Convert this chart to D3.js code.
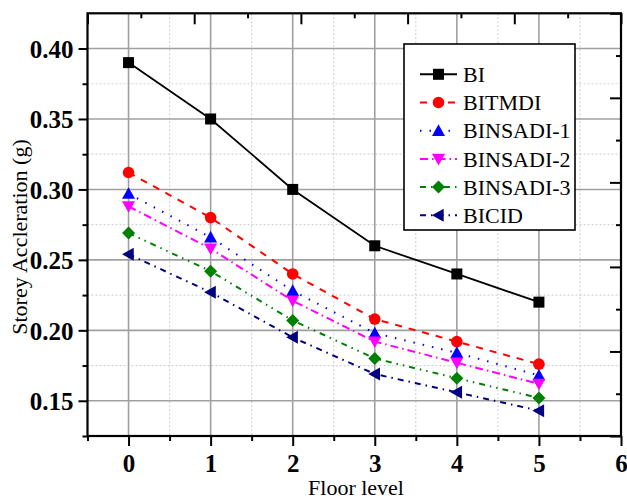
<!DOCTYPE html>
<html>
<head>
<meta charset="utf-8">
<script src="https://cdn.jsdelivr.net/npm/d3@7/dist/d3.min.js"></script>
<style>
  html, body { margin: 0; padding: 0; background: #fff; }
  svg { display: block; }
  svg text { font-family: "Times New Roman", "Liberation Serif", Tinos, serif; }
  .ticklab { font-weight: bold; font-size: 25px; }
</style>
</head>
<body>
<svg id="chart" width="627" height="499"></svg>
<script>
// ---- data ----
const floors = [0, 1, 2, 3, 4, 5];
const seriesNames = ["BI", "BITMDI", "BINSADI-1", "BINSADI-2", "BINSADI-3", "BICID"];
const BI        = [0.390, 0.350, 0.300, 0.260, 0.240, 0.220];
const BITMDI    = [0.312, 0.280, 0.240, 0.208, 0.192, 0.176];
const BINSADI_1 = [0.297, 0.266, 0.228, 0.198, 0.184, 0.168];
const BINSADI_2 = [0.288, 0.258, 0.221, 0.192, 0.177, 0.162];
const BINSADI_3 = [0.269, 0.242, 0.207, 0.180, 0.166, 0.152];
const BICID     = [0.254, 0.227, 0.195, 0.169, 0.156, 0.143];
const xTickValues = [0, 1, 2, 3, 4, 5, 6];
const yTickValues = [0.15, 0.20, 0.25, 0.30, 0.35, 0.40];
const xTitle = "Floor level";
const yTitle = "Storey Accleration (g)";

const styles = [
  { color: "#000000", dash: null,              marker: "square" },
  { color: "#ff0000", dash: "7,7",             marker: "circle" },
  { color: "#0000ff", dash: "1.5,8",           marker: "triUp" },
  { color: "#ff00ff", dash: "8,4,1.5,4",       marker: "triDown" },
  { color: "#008000", dash: "6,5,1.5,5,1.5,5", marker: "diamond" },
  { color: "#000080", dash: "6,5,1.5,5",       marker: "triLeft" }
];
const allValues = [BI, BITMDI, BINSADI_1, BINSADI_2, BINSADI_3, BICID];

const svg = d3.select("#chart");
const L = 87.5, R = 621, T = 13.3, B = 436;
const x = d3.scaleLinear().domain([-0.5, 6]).range([L, R]);
const y = d3.scaleLinear().domain([0.125, 0.425]).range([B, T]);

const gx = svg.append("g");
[0.5, 1.5, 2.5, 3.5, 4.5, 5.5].forEach(v => {
  gx.append("line").attr("x1", x(v)).attr("x2", x(v)).attr("y1", T).attr("y2", B)
    .attr("stroke", "#d4d4d4").attr("stroke-width", 1.2).attr("stroke-dasharray", "2,2");
});
[0.175, 0.225, 0.275, 0.325, 0.375].forEach(v => {
  gx.append("line").attr("x1", L).attr("x2", R).attr("y1", y(v)).attr("y2", y(v))
    .attr("stroke", "#d4d4d4").attr("stroke-width", 1.2).attr("stroke-dasharray", "2,2");
});
xTickValues.filter(v => v < 6).forEach(v => {
  gx.append("line").attr("x1", x(v)).attr("x2", x(v)).attr("y1", T).attr("y2", B)
    .attr("stroke", "#a0a0a0").attr("stroke-width", 1.6);
});
yTickValues.forEach(v => {
  gx.append("line").attr("x1", L).attr("x2", R).attr("y1", y(v)).attr("y2", y(v))
    .attr("stroke", "#a0a0a0").attr("stroke-width", 1.6);
});

function styleAxis(g) {
  g.attr("font-family", null).attr("font-size", 25).attr("font-weight", "bold");
  g.select(".domain").remove();
  g.selectAll(".tick line").attr("stroke", "#000").attr("stroke-width", 2);
  g.selectAll(".tick text").attr("class", "ticklab").attr("fill", "#000");
}
const xAxis = svg.append("g").attr("transform", `translate(0,${B})`)
  .call(d3.axisBottom(x).tickValues(xTickValues).tickSize(10).tickPadding(8).tickFormat(d3.format("d")));
styleAxis(xAxis);
const xAxisMinor = svg.append("g").attr("transform", `translate(0,${B})`)
  .call(d3.axisBottom(x).tickValues([-0.5, 0.5, 1.5, 2.5, 3.5, 4.5, 5.5]).tickSize(5).tickFormat(""));
styleAxis(xAxisMinor);
const yAxis = svg.append("g").attr("transform", `translate(${L},0)`)
  .call(d3.axisLeft(y).tickValues(yTickValues).tickSize(9).tickPadding(5).tickFormat(d3.format(".2f")));
styleAxis(yAxis);
yAxis.selectAll("text").attr("dy", "0.35em");
const yAxisMinor = svg.append("g").attr("transform", `translate(${L},0)`)
  .call(d3.axisLeft(y).tickValues([0.125, 0.175, 0.225, 0.275, 0.325, 0.375]).tickSize(5).tickFormat(""));
styleAxis(yAxisMinor);

const xt = d3.scaleLinear().domain([0, 10]).range([L, R]);
const yr = d3.scaleLinear().domain([0, 10]).range([B, T]);
const topMaj = svg.append("g").attr("transform", `translate(0,${T})`)
  .call(d3.axisTop(xt).tickValues([0, 2, 4, 6, 8, 10]).tickSize(-11).tickFormat(""));
styleAxis(topMaj);
const topMin = svg.append("g").attr("transform", `translate(0,${T})`)
  .call(d3.axisTop(xt).tickValues([1, 3, 5, 7, 9]).tickSize(-5).tickFormat(""));
styleAxis(topMin);
const rightMaj = svg.append("g").attr("transform", `translate(${R},0)`)
  .call(d3.axisRight(yr).tickValues([0, 2, 4, 6, 8, 10]).tickSize(-11).tickFormat(""));
styleAxis(rightMaj);
const rightMin = svg.append("g").attr("transform", `translate(${R},0)`)
  .call(d3.axisRight(yr).tickValues([1, 3, 5, 7, 9]).tickSize(-5).tickFormat(""));
styleAxis(rightMin);

svg.append("rect").attr("x", L).attr("y", T).attr("width", R - L).attr("height", B - T)
  .attr("fill", "none").attr("stroke", "#000").attr("stroke-width", 2.2);

function drawMarker(g, type, cx, cy, color) {
  if (type === "square") {
    g.append("rect").attr("x", cx - 5.5).attr("y", cy - 5.5).attr("width", 11).attr("height", 11).attr("fill", color);
  } else if (type === "circle") {
    g.append("circle").attr("cx", cx).attr("cy", cy).attr("r", 5.8).attr("fill", color);
  } else {
    let pts;
    const a = 6.5;
    if (type === "triUp") pts = [[cx, cy - a], [cx - a, cy + a * 0.8], [cx + a, cy + a * 0.8]];
    if (type === "triDown") pts = [[cx, cy + a], [cx - a, cy - a * 0.8], [cx + a, cy - a * 0.8]];
    if (type === "triLeft") pts = [[cx - a, cy], [cx + a * 0.8, cy - a], [cx + a * 0.8, cy + a]];
    if (type === "diamond") pts = [[cx, cy - a], [cx + a, cy], [cx, cy + a], [cx - a, cy]];
    g.append("polygon").attr("points", pts.map(p => p.join(",")).join(" ")).attr("fill", color);
  }
}

const line = d3.line().x((d, i) => x(floors[i])).y(d => y(d));
allValues.forEach((vals, si) => {
  const st = styles[si];
  const g = svg.append("g");
  g.append("path").datum(vals).attr("d", line).attr("fill", "none")
    .attr("stroke", st.color).attr("stroke-width", si === 0 ? 1.8 : 2)
    .attr("stroke-dasharray", st.dash);
  vals.forEach((v, i) => drawMarker(g, st.marker, x(floors[i]), y(v), st.color));
});

const lg = svg.append("g");
lg.append("rect").attr("x", 404).attr("y", 44).attr("width", 171).attr("height", 186)
  .attr("fill", "#fff").attr("stroke", "#000").attr("stroke-width", 1.6);
seriesNames.forEach((name, i) => {
  const st = styles[i];
  const cy = 74.3 + i * 28.2;
  lg.append("line").attr("x1", 420).attr("x2", 457).attr("y1", cy).attr("y2", cy)
    .attr("stroke", st.color).attr("stroke-width", 2).attr("stroke-dasharray", st.dash);
  drawMarker(lg, st.marker, 438.5, cy, st.color);
  lg.append("text").attr("x", 463).attr("y", cy).attr("dy", "0.35em")
    .attr("font-size", 22).attr("fill", "#000").text(name);
});

svg.append("text").attr("x", 356).attr("y", 495)
  .attr("text-anchor", "middle").attr("font-size", 22).text(xTitle);
svg.append("text").attr("transform", `translate(27,237) rotate(-90)`)
  .attr("text-anchor", "middle").attr("font-size", 22).text(yTitle);
</script>
</body>
</html>
